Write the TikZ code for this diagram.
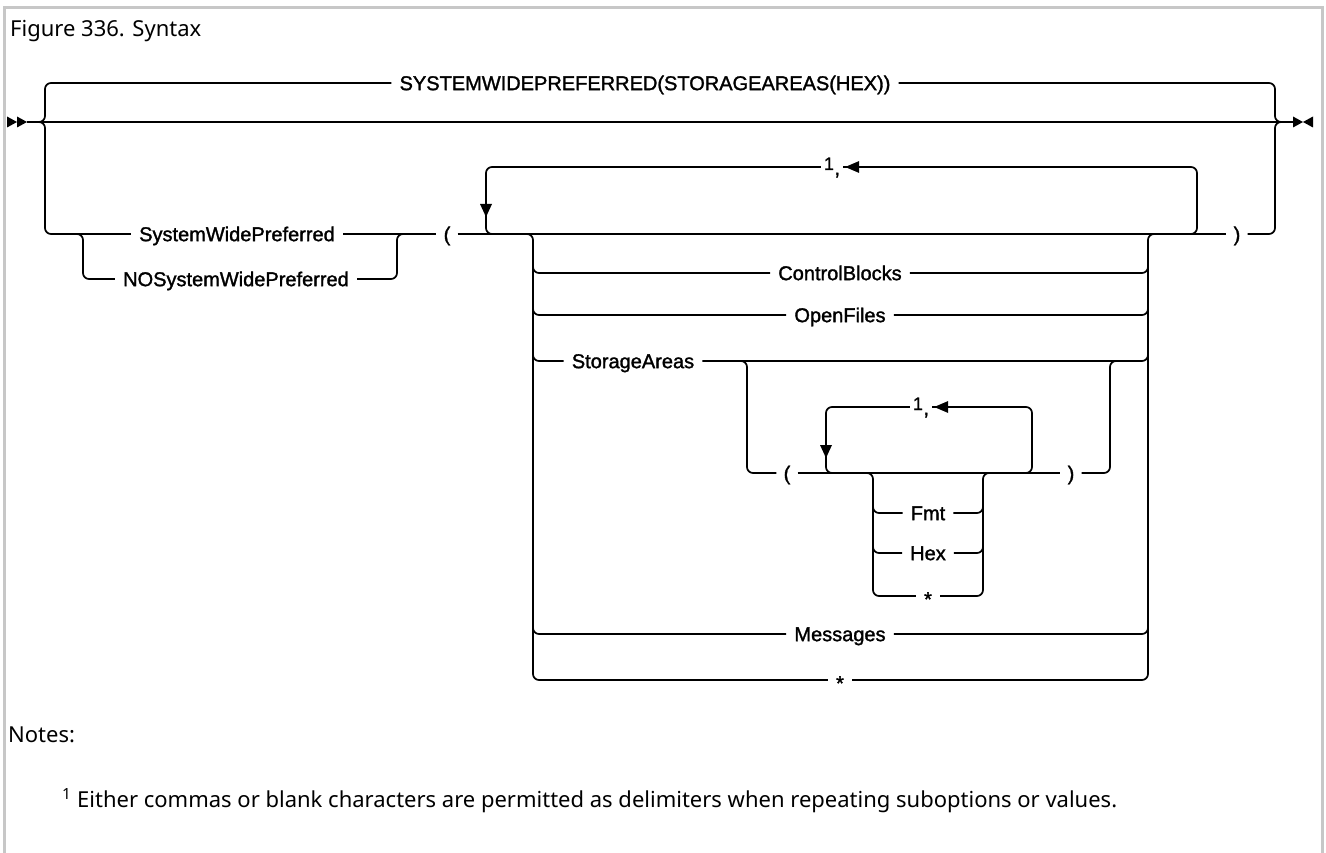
\documentclass[tikz,border=0pt]{standalone}
\usepackage{fontspec}
\setmainfont{Liberation Sans}
\newfontfamily\kwfont{Liberation Sans}[FakeBold=1.5]
\newfontfamily\capfont{Noto Sans}
\begin{document}
\begin{tikzpicture}[x=1pt,y=-1pt,
  rail/.style={line width=1.7pt, rounded corners=6pt},
  kw/.style={font=\kwfont\fontsize{20}{24}\selectfont, text height=14.3pt, text depth=0pt, inner ysep=0pt, inner xsep=8pt},
  par/.style={kw, inner xsep=7pt},
  star/.style={kw, yshift=-3pt},
  rn/.style={font=\kwfont\fontsize{20}{24}\selectfont, inner xsep=3pt, inner ysep=0pt},
  note/.style={font=\capfont\fontsize{22}{26}\selectfont, inner sep=0pt},
  frame/.style={draw=black!22, line width=3pt},
  tip/.style={fill=black}]
\useasboundingbox (0,0) rectangle (1326,853);
\draw[frame] (4.5,853) -- (4.5,8) -- (1322.5,8) -- (1322.5,853);

\node[note, anchor=base west] (cap) at (10,37) {Figure 336. Syntax};

% start / end
\coordinate (st) at (27,122);
\coordinate (en) at (1293,122);
\fill[tip] (7,116.5) -- (17,122) -- (7,127.5) -- cycle;
\fill[tip] (17,116.5) -- (27,122) -- (17,127.5) -- cycle;
\fill[tip] (1293,116.5) -- (1303,122) -- (1293,127.5) -- cycle;
\fill[tip] (1313,116.5) -- (1303,122) -- (1313,127.5) -- cycle;
\draw[rail] (st) -- (en);

% default (top)
\node[kw] (sys) at (645,83) {SYSTEMWIDEPREFERRED(STORAGEAREAS(HEX))};
\draw[rail] (37,122) -| (45,83) -- (sys.west);
\draw[rail] (sys.east) -| (1275,122) -- (1283,122);

% lower branch
\node[kw] (swp) at (237,234) {SystemWidePreferred};
\node[kw] (nswp) at (236,279) {NOSystemWidePreferred};
\node[par] (lp) at (447,234) {(};
\node[par] (rp) at (1237,234) {)};
\draw[rail] (37,122) -| (45,234) -- (swp.west);
\draw[rail] (71,234) -| (83,279) -- (nswp.west);
\draw[rail] (nswp.east) -| (397,234) -- (409,234);
\draw[rail] (swp.east) -- (lp.west);
\draw[rail] (lp.east) -- (rp.west);
\draw[rail] (rp.east) -| (1275,122) -- (1283,122);

% outer repeat
\node[rn, anchor=base] (r1) at (832,175) {\raisebox{5pt}{\kwfont\fontsize{18}{18}\selectfont 1}\kern0.5pt,};
\draw[rail] (500,234) -| (486,167) -- (r1.west |- 0,167);
\draw[rail] (1183,234) -| (1197,167) -- (r1.east |- 0,167);
\fill[tip] (480,204) -- (492,204) -- (486,217) -- cycle;
\fill[tip] ([xshift=2pt]r1.east |- 0,167) -- ([xshift=16pt]r1.east |- 0,161) -- ([xshift=16pt]r1.east |- 0,173) -- cycle;

% main choice block
\node[kw] (cb) at (840,273) {ControlBlocks};
\node[kw] (of) at (840,315) {OpenFiles};
\node[kw] (sa) at (633,361) {StorageAreas};
\node[kw] (msg) at (840,634) {Messages};
\node[star] (st1) at (840,680) {*};
\draw[rail] (521,234) -| (533,680) -- (st1.west |- 0,680);
\draw[rail] (st1.east |- 0,680) -| (1148,234) -- (1160,234);
\draw[rail] (533,261) |- (cb.west);
\draw[rail] (cb.east) -| (1148,261);
\draw[rail] (533,303) |- (of.west);
\draw[rail] (of.east) -| (1148,303);
\draw[rail] (533,349) |- (sa.west);
\draw[rail] (sa.east) -| (1148,349);
\draw[rail] (533,622) |- (msg.west);
\draw[rail] (msg.east) -| (1148,622);

% storage areas optional group
\node[par] (lp2) at (787,473) {(};
\node[par] (rp2) at (1071,473) {)};
\draw[rail] (735,361) -| (747,473) -- (lp2.west);
\draw[rail] (lp2.east) -- (rp2.west);
\draw[rail] (rp2.east) -| (1110,361) -- (1122,361);

% inner repeat
\node[rn, anchor=base] (r2) at (921,415) {\raisebox{5pt}{\kwfont\fontsize{18}{18}\selectfont 1}\kern0.5pt,};
\draw[rail] (840,473) -| (826,407) -- (r2.west |- 0,407);
\draw[rail] (1018,473) -| (1032,407) -- (r2.east |- 0,407);
\fill[tip] (820,445) -- (832,445) -- (826,458) -- cycle;
\fill[tip] ([xshift=2pt]r2.east |- 0,407) -- ([xshift=16pt]r2.east |- 0,401) -- ([xshift=16pt]r2.east |- 0,413) -- cycle;

% inner choice
\node[kw] (fmt) at (928,513) {Fmt};
\node[kw] (hex) at (928,553) {Hex};
\node[star] (ist) at (928,596) {*};
\draw[rail] (861,473) -| (873,596) -- (ist.west |- 0,596);
\draw[rail] (873,501) |- (fmt.west);
\draw[rail] (873,541) |- (hex.west);
\draw[rail] (ist.east |- 0,596) -| (983,473) -- (995,473);
\draw[rail] (fmt.east) -| (983,501);
\draw[rail] (hex.east) -| (983,541);

% notes
\node[note, anchor=base west] (notes) at (8,742) {Notes:};
\node[note, anchor=base west] (fn) at (62,807) {\textsuperscript{1} Either commas or blank characters are permitted as delimiters when repeating suboptions or values.};
\end{tikzpicture}
\end{document}
